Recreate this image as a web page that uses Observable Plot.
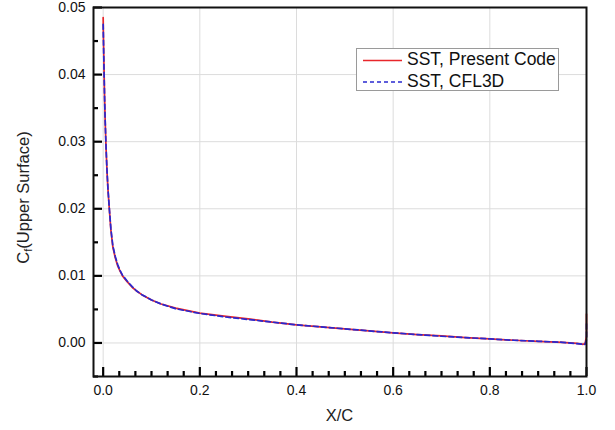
<!DOCTYPE html>
<html>
<head>
<meta charset="utf-8">
<script src="https://cdn.jsdelivr.net/npm/d3@7"></script>
<script src="https://cdn.jsdelivr.net/npm/@observablehq/plot@0.6"></script>
<style>
  html, body { margin: 0; padding: 0; background: #fff; }
  svg { display: block; }
</style>
</head>
<body>
<div id="chart"></div>
<script>
// ---- data ----
const xPresent = [0, 0.0005, 0.001, 0.002, 0.003, 0.004, 0.006, 0.008, 0.010, 0.013, 0.016, 0.020, 0.025, 0.030, 0.035, 0.040, 0.050, 0.060, 0.070, 0.080, 0.100, 0.120, 0.150, 0.200, 0.250, 0.300, 0.350, 0.400, 0.450, 0.500, 0.550, 0.600, 0.650, 0.700, 0.750, 0.800, 0.850, 0.900, 0.950, 0.980, 0.993, 0.997, 1.000, 1.000];
const cfPresent = [0.0485, 0.0460, 0.0440, 0.0400, 0.0365, 0.0335, 0.0290, 0.0255, 0.0228, 0.0197, 0.0168, 0.0143, 0.0127, 0.0115, 0.0107, 0.0100, 0.0091, 0.0083, 0.0077, 0.0072, 0.0064, 0.0058, 0.0052, 0.00445, 0.0040, 0.0036, 0.0031, 0.0027, 0.0024, 0.0021, 0.0018, 0.0015, 0.00125, 0.00105, 0.0008, 0.0006, 0.0004, 0.00025, 0.0001, -0.00005, -0.0002, -0.0001, 0.0010, 0.0043];

const xCfl3d = [0, 0.0005, 0.001, 0.002, 0.003, 0.004, 0.006, 0.008, 0.010, 0.013, 0.016, 0.020, 0.025, 0.030, 0.035, 0.040, 0.050, 0.060, 0.070, 0.080, 0.100, 0.120, 0.150, 0.200, 0.250, 0.300, 0.350, 0.400, 0.450, 0.500, 0.550, 0.600, 0.650, 0.700, 0.750, 0.800, 0.850, 0.900, 0.950, 0.980, 0.993, 0.997, 1.000, 1.000];
const cfCfl3d = [0.0475, 0.0455, 0.0436, 0.0398, 0.0364, 0.0335, 0.0291, 0.0256, 0.0229, 0.0198, 0.0170, 0.0145, 0.0129, 0.0117, 0.0108, 0.0101, 0.0092, 0.0084, 0.0077, 0.0072, 0.0064, 0.0058, 0.0051, 0.0044, 0.0039, 0.0035, 0.0031, 0.0027, 0.0024, 0.0021, 0.0018, 0.0015, 0.00125, 0.00100, 0.0008, 0.0006, 0.0004, 0.00025, 0.0001, -0.0001, -0.0002, -0.0002, 0.0005, 0.0030];

const seriesNames = ["SST, Present Code", "SST, CFL3D"];
const seriesColors = ["#e8262b", "#2828d0"];

const xMajorTicks = [0, 0.2, 0.4, 0.6, 0.8, 1.0];
const xMinorTicks = d3.range(0, 31).filter(i => i % 6 !== 0).map(i => i / 30);
const yMajorTicks = [0, 0.01, 0.02, 0.03, 0.04, 0.05];
const yMinorTicks = [-0.005, 0.005, 0.015, 0.025, 0.035, 0.045];

const xDomain = [-0.02, 1.0];
const yDomain = [-0.005, 0.05];

const present = xPresent.map((x, i) => ({x, y: cfPresent[i]}));
const cfl3d = xCfl3d.map((x, i) => ({x, y: cfCfl3d[i]}));

// ---- layout ----
const W = 615, H = 430;
const mL = 93, mR = 29, mT = 7, mB = 54;
const fw = W - mL - mR, fh = H - mT - mB;
const font = "'Liberation Sans', Arial, sans-serif";

// inward tick lengths (px) converted to data units through the scale extents
const yPerPx = (yDomain[1] - yDomain[0]) / fh;
const xPerPx = (xDomain[1] - xDomain[0]) / fw;
const majorLen = 9, minorLen = 5;
const xTickRows = [...xMajorTicks.map(v => ({v, len: majorLen})), ...xMinorTicks.map(v => ({v, len: minorLen}))];
const yTickRows = [...yMajorTicks.map(v => ({v, len: majorLen})), ...yMinorTicks.map(v => ({v, len: minorLen}))];

const chart = Plot.plot({
  width: W, height: H,
  marginLeft: mL, marginRight: mR, marginTop: mT, marginBottom: mB,
  style: {fontFamily: font, background: "#fff", color: "#111"},
  x: {domain: xDomain},
  y: {domain: yDomain},
  marks: [
    Plot.gridX(xMajorTicks, {stroke: "#dcdcdc", strokeOpacity: 1, strokeWidth: 1}),
    Plot.gridY(yMajorTicks, {stroke: "#dcdcdc", strokeOpacity: 1, strokeWidth: 1}),
    Plot.axisX(xMajorTicks, {tickSize: 0, tickPadding: 9, tickFormat: d3.format(".1f"), fontSize: 14, label: null}),
    Plot.axisY(yMajorTicks, {tickSize: 0, tickPadding: 8, tickFormat: d3.format(".2f"), fontSize: 14, label: null}),
    Plot.line(present, {x: "x", y: "y", stroke: seriesColors[0], strokeWidth: 1.7}),
    Plot.line(cfl3d, {x: "x", y: "y", stroke: seriesColors[1], strokeWidth: 1.7, strokeDasharray: "5,3"}),
    Plot.ruleX(xTickRows, {x: "v", y1: () => yDomain[0], y2: d => yDomain[0] + d.len * yPerPx, stroke: "#000", strokeOpacity: 1, strokeWidth: 2.2}),
    Plot.ruleY(yTickRows, {y: "v", x1: () => xDomain[0], x2: d => xDomain[0] + d.len * xPerPx, stroke: "#000", strokeOpacity: 1, strokeWidth: 2.2}),
    Plot.frame({stroke: "#111", strokeWidth: 2})
  ]
});

const svg = d3.select(chart);

// y-axis title with subscript
const yl = svg.append("text")
  .attr("transform", `translate(25,${mT + fh / 2 + 6}) rotate(-90)`)
  .attr("text-anchor", "middle")
  .attr("dominant-baseline", "middle")
  .attr("font-family", font)
  .attr("font-size", 16.5)
  .attr("fill", "#222");
yl.append("tspan").text("C");
yl.append("tspan").attr("font-size", 11).attr("dy", 4).text("f");
yl.append("tspan").attr("dy", -4).text("(Upper Surface)");

// x-axis title
svg.append("text")
  .attr("x", mL + fw / 2)
  .attr("y", 417)
  .attr("text-anchor", "middle")
  .attr("dominant-baseline", "middle")
  .attr("font-family", font)
  .attr("font-size", 16.5)
  .attr("fill", "#222")
  .text("X/C");

// legend
const lg = svg.append("g").attr("text-anchor", "start");
lg.append("rect").attr("x", 356.5).attr("y", 48.5).attr("width", 202).attr("height", 42)
  .attr("fill", "#fff").attr("stroke", "#9a9a9a").attr("stroke-width", 1);
const rowsY = [60.5, 82];
seriesNames.forEach((name, i) => {
  lg.append("line").attr("x1", 363).attr("x2", 402).attr("y1", rowsY[i]).attr("y2", rowsY[i])
    .attr("stroke", seriesColors[i]).attr("stroke-width", 1.6)
    .attr("stroke-dasharray", i === 1 ? "4,3" : null);
  lg.append("text").attr("x", 407).attr("y", rowsY[i])
    .attr("text-anchor", "start")
    .attr("dominant-baseline", "middle")
    .attr("font-family", font).attr("font-size", 17.5).attr("fill", "#111")
    .text(name);
});

document.getElementById("chart").appendChild(chart);
</script>
</body>
</html>
